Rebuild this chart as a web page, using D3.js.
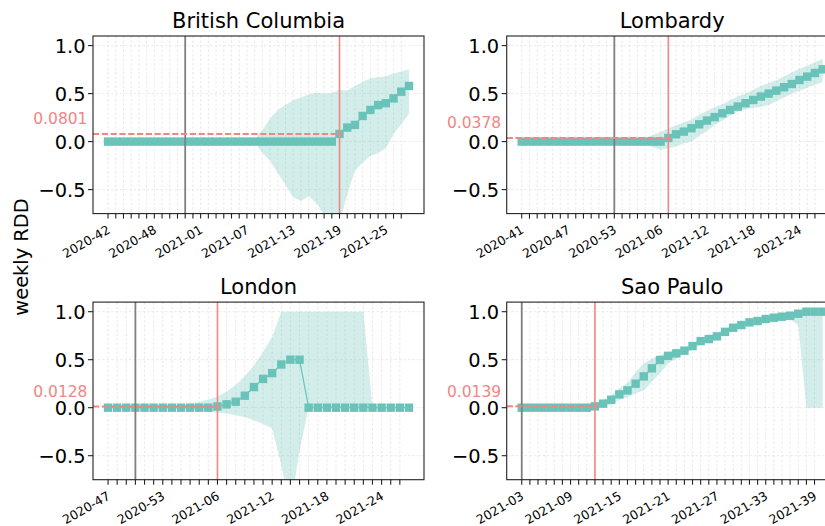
<!DOCTYPE html>
<html><head><meta charset="utf-8">
<script src="https://cdn.jsdelivr.net/npm/d3@7"></script>
<style>
body{margin:0;background:#fff}
svg{display:block}
text{font-family:"DejaVu Sans",sans-serif}
</style>
</head><body>
<svg id="chart" width="825" height="526"></svg>
<script>
// ---------------- data ----------------
const weeksBC = ["2020-42","2020-43","2020-44","2020-45","2020-46","2020-47","2020-48","2020-49","2020-50","2020-51","2020-52","2020-53",
  "2021-01","2021-02","2021-03","2021-04","2021-05","2021-06","2021-07","2021-08","2021-09","2021-10","2021-11","2021-12","2021-13","2021-14",
  "2021-15","2021-16","2021-17","2021-18","2021-19","2021-20","2021-21","2021-22","2021-23","2021-24","2021-25","2021-26","2021-27","2021-28"];
const valueBC = [0,0,0,0,0,0,0,0,0,0,0,0,0,0,0,0,0,0,0,0,0,0,0,0,0,0,0,0,0,0,
  0.0801,0.146,0.174,0.267,0.33,0.38,0.40,0.45,0.52,0.58];
const lowerBC = [0,0,0,0,0,0,0,0,0,0,0,0,0,0,0,0,0,0,0,-0.01,
  -0.12,-0.2,-0.33,-0.45,-0.58,-0.62,-0.57,-0.64,-0.76,-0.95,-0.85,-0.55,-0.30,-0.22,-0.15,-0.12,-0.07,0.08,0.18,0.29];
const upperBC = [0,0,0,0,0,0,0,0,0,0,0,0,0,0,0,0,0,0,0,0.02,
  0.12,0.24,0.33,0.38,0.43,0.46,0.49,0.51,0.50,0.51,0.54,0.53,0.58,0.62,0.66,0.67,0.68,0.71,0.73,0.75];

const weeksLombardy = ["2020-41","2020-42","2020-43","2020-44","2020-45","2020-46","2020-47","2020-48","2020-49","2020-50","2020-51","2020-52","2020-53",
  "2021-01","2021-02","2021-03","2021-04","2021-05","2021-06","2021-07","2021-08","2021-09","2021-10","2021-11","2021-12","2021-13","2021-14",
  "2021-15","2021-16","2021-17","2021-18","2021-19","2021-20","2021-21","2021-22","2021-23","2021-24","2021-25","2021-26","2021-27"];
const valueLombardy = [0,0,0,0,0,0,0,0,0,0,0,0,0,0,0,0,0,0,0,
  0.0378,0.076,0.104,0.139,0.18,0.219,0.255,0.295,0.33,0.365,0.40,0.434,0.469,0.50,0.531,0.566,0.60,0.642,0.677,0.715,0.753];
const lowerLombardy = [0,0,0,0,0,0,0,0,0,0,0,0,0,0,0,-0.005,-0.03,-0.06,-0.085,
  -0.07,-0.05,-0.02,0.0,0.06,0.11,0.17,0.22,0.27,0.31,0.34,0.35,0.36,0.38,0.42,0.46,0.50,0.53,0.56,0.59,0.62];
const upperLombardy = [0,0,0,0,0,0,0,0,0,0,0,0,0,0,0,0.005,0.04,0.07,0.10,
  0.14,0.17,0.20,0.23,0.28,0.32,0.36,0.39,0.43,0.47,0.50,0.54,0.58,0.61,0.64,0.68,0.72,0.76,0.79,0.83,0.86];

const weeksLondon = ["2020-47","2020-48","2020-49","2020-50","2020-51","2020-52","2020-53",
  "2021-01","2021-02","2021-03","2021-04","2021-05","2021-06","2021-07","2021-08","2021-09","2021-10","2021-11","2021-12","2021-13","2021-14",
  "2021-15","2021-16","2021-17","2021-18","2021-19","2021-20","2021-21","2021-22","2021-23","2021-24","2021-25","2021-26","2021-27"];
const valueLondon = [0,0,0,0,0,0,0,0,0,0,0,0,
  0.0128,0.035,0.0625,0.125,0.215,0.30,0.36,0.45,0.5,0.5,0,0,0,0,0,0,0,0,0,0,0,0];
const lowerLondon = [0,0,0,0,0,0,-0.003,-0.008,-0.012,-0.02,-0.03,-0.04,
  -0.05,-0.06,-0.076,-0.10,-0.13,-0.17,-0.215,-0.6,-1.05,-0.45,0,0,0,0,0,0,0,0,0,0,0,0];
const upperLondon = [0,0,0,0,0,0.003,0.008,0.015,0.025,0.04,0.06,0.085,
  0.115,0.17,0.236,0.33,0.44,0.58,0.74,1,1,1,1,1,1,1,1,1,1,0,0,0,0,0];

const weeksSaoPaulo = ["2021-03","2021-04","2021-05","2021-06","2021-07","2021-08","2021-09","2021-10","2021-11","2021-12","2021-13","2021-14",
  "2021-15","2021-16","2021-17","2021-18","2021-19","2021-20","2021-21","2021-22","2021-23","2021-24","2021-25","2021-26","2021-27","2021-28",
  "2021-29","2021-30","2021-31","2021-32","2021-33","2021-34","2021-35","2021-36","2021-37","2021-38","2021-39","2021-40"];
const valueSaoPaulo = [0,0,0,0,0,0,0,0,0,
  0.0139,0.042,0.083,0.139,0.18,0.25,0.326,0.41,0.497,0.54,0.566,0.594,0.642,0.694,0.715,0.743,0.79,0.833,0.861,0.889,0.903,0.924,0.9375,0.948,0.958,0.979,1,1,1];
const lowerSaoPaulo = [0,0,0,0,0,0,0,0,0,
  0.0,0.01,0.03,0.08,0.11,0.15,0.18,0.27,0.36,0.46,0.51,0.56,0.61,0.66,0.69,0.72,0.77,0.81,0.84,0.87,0.89,0.91,0.92,0.925,0.92,0.86,0,0,0];
const upperSaoPaulo = [0,0,0,0,0,0,0,0,0,
  0.03,0.08,0.13,0.2,0.26,0.37,0.46,0.51,0.55,0.58,0.61,0.63,0.67,0.72,0.75,0.78,0.82,0.86,0.88,0.91,0.92,0.94,0.95,0.96,0.975,0.99,1,1,1];

const regionNames = ["British Columbia","Lombardy","London","Sao Paulo"];
const startWeek = ["2020-52","2020-53","2020-50","2021-03"];   // grey vertical line
const cutWeek   = ["2021-19","2021-07","2021-06","2021-12"];   // red vertical line
const cutLabel  = ["0.0801","0.0378","0.0128","0.0139"];
const yTickValues = [-0.5, 0, 0.5, 1.0];
const yTickLabels = ["\u22120.5","0.0","0.5","1.0"];

// ---------------- layout ----------------
const teal = "#69c3b9", coral = "#f28684";
const W = 331, H = 177.6;
const origins = [[93,36],[506.7,36],[93,302.1],[506.7,302.1]];
const series = [
  {weeks:weeksBC, v:valueBC, lo:lowerBC, hi:upperBC},
  {weeks:weeksLombardy, v:valueLombardy, lo:lowerLombardy, hi:upperLombardy},
  {weeks:weeksLondon, v:valueLondon, lo:lowerLondon, hi:upperLondon},
  {weeks:weeksSaoPaulo, v:valueSaoPaulo, lo:lowerSaoPaulo, hi:upperSaoPaulo}
];

const svg = d3.select("#chart");
const defs = svg.append("defs");

series.forEach((s, k) => {
  const [x0, y0] = origins[k];
  const n = s.weeks.length;
  const x = d3.scaleLinear().domain([-0.05*(n-1), 1.05*(n-1)]).range([x0, x0+W]);
  const y = d3.scaleLinear().domain([-0.75, 1.1]).range([y0+H, y0]);
  const g = svg.append("g");
  const cid = "clip"+k;
  defs.append("clipPath").attr("id", cid).append("rect")
    .attr("x", x0).attr("y", y0).attr("width", W).attr("height", H);

  const tickIdx = d3.range(n-1);
  // grid
  g.append("g").selectAll("line").data(tickIdx).join("line")
    .attr("x1", d=>x(d)).attr("x2", d=>x(d)).attr("y1", y0).attr("y2", y0+H)
    .attr("stroke", "#e3e3e3").attr("stroke-width", 0.8).attr("stroke-dasharray", "2.5,2");
  g.append("g").selectAll("line").data(yTickValues).join("line")
    .attr("x1", x0).attr("x2", x0+W).attr("y1", d=>y(d)).attr("y2", d=>y(d))
    .attr("stroke", "#e3e3e3").attr("stroke-width", 0.8).attr("stroke-dasharray", "2.5,2");

  const idx = d3.range(n);
  const pg = g.append("g").attr("clip-path", `url(#${cid})`);
  // CI band
  pg.append("path").datum(idx)
    .attr("d", d3.area().x(i=>x(i)).y0(i=>y(s.lo[i])).y1(i=>y(s.hi[i])))
    .attr("fill", teal).attr("fill-opacity", 0.3);
  // line
  pg.append("path").datum(idx)
    .attr("d", d3.line().x(i=>x(i)).y(i=>y(s.v[i])))
    .attr("fill", "none").attr("stroke", teal).attr("stroke-width", 1.2);
  // markers
  pg.selectAll("rect.m").data(idx).join("rect").attr("class","m")
    .attr("x", i=>x(i)-4.2).attr("y", i=>y(s.v[i])-4.2)
    .attr("width", 8.4).attr("height", 8.4).attr("fill", teal);

  const si = s.weeks.indexOf(startWeek[k]);
  const ci = s.weeks.indexOf(cutWeek[k]);
  const cv = +cutLabel[k];
  // grey line
  pg.append("line").attr("x1", x(si)).attr("x2", x(si)).attr("y1", y0).attr("y2", y0+H)
    .attr("stroke", "#808080").attr("stroke-width", 1.8);
  // red dashed horizontal line
  pg.append("line").attr("x1", x0).attr("x2", x(ci)+3).attr("y1", y(cv)).attr("y2", y(cv))
    .attr("stroke", coral).attr("stroke-width", 2).attr("stroke-dasharray", "6.2,2.6");
  // red vertical line
  pg.append("line").attr("x1", x(ci)).attr("x2", x(ci)).attr("y1", y0).attr("y2", y0+H)
    .attr("stroke", coral).attr("stroke-width", 1.6);

  // spines
  g.append("rect").attr("x", x0).attr("y", y0).attr("width", W).attr("height", H)
    .attr("fill", "none").attr("stroke", "#222").attr("stroke-width", 1.1);

  // x ticks
  g.append("g").selectAll("line").data(tickIdx).join("line")
    .attr("x1", d=>x(d)).attr("x2", d=>x(d)).attr("y1", y0+H).attr("y2", y0+H+5)
    .attr("stroke", "#222").attr("stroke-width", 1.1);
  g.append("g").selectAll("text").data(tickIdx.filter(i => i % 6 === 0)).join("text")
    .attr("transform", d=>`translate(${x(d)-1.5},${y0+H+11}) rotate(-30)`)
    .attr("text-anchor", "end").attr("dy", "0.72em")
    .attr("font-size", 12.5).attr("fill", "#000")
    .text(d=>s.weeks[d]);

  // y ticks
  g.append("g").selectAll("line").data(yTickValues).join("line")
    .attr("x1", x0-5).attr("x2", x0).attr("y1", d=>y(d)).attr("y2", d=>y(d))
    .attr("stroke", "#222").attr("stroke-width", 1.1);
  g.append("g").selectAll("text").data(yTickValues).join("text")
    .attr("x", x0-7.5).attr("y", d=>y(d)).attr("dy", "0.36em")
    .attr("text-anchor", "end").attr("font-size", 19.4).attr("fill", "#000")
    .text((d,i)=>yTickLabels[i]);

  // cutoff label
  g.append("text").attr("x", x0-5.5).attr("y", y(cv + 0.1))
    .attr("text-anchor", "end").attr("font-size", 15.5).attr("fill", coral)
    .text(cutLabel[k]);

  // title
  g.append("text").attr("x", x0+W/2).attr("y", y0-8)
    .attr("text-anchor", "middle").attr("font-size", 21).attr("fill", "#000")
    .text(regionNames[k]);
});

svg.append("text").attr("transform", "translate(28,257) rotate(-90)")
  .attr("text-anchor", "middle").attr("font-size", 19.4).attr("fill", "#000")
  .text("weekly RDD");
</script>
</body></html>
